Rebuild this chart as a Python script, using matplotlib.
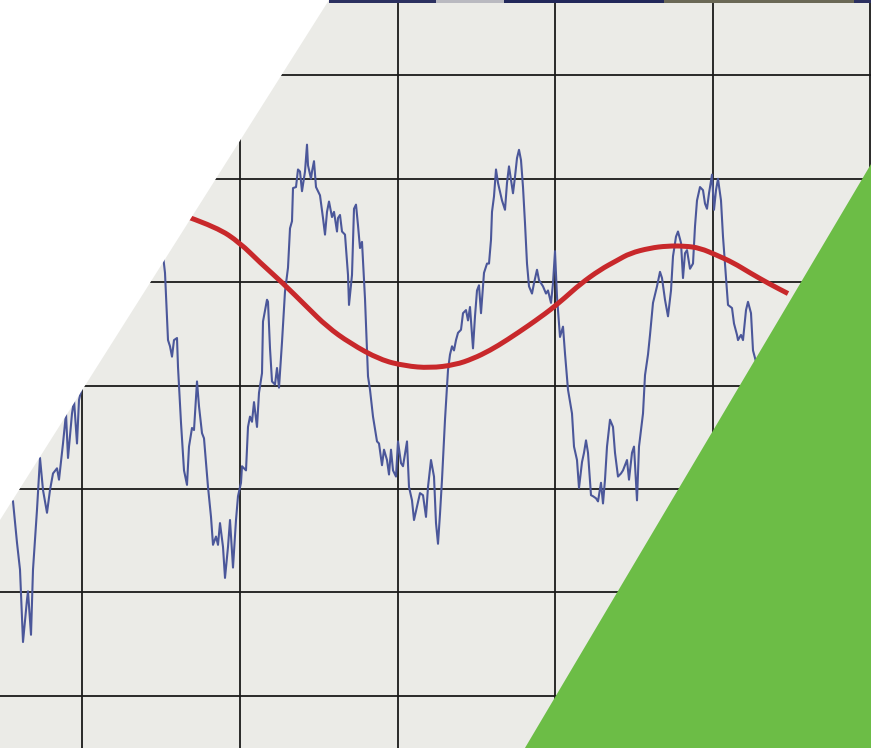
import numpy as np
import matplotlib
matplotlib.use("Agg")
import matplotlib.pyplot as plt
from matplotlib.patches import Polygon, Rectangle, PathPatch
from matplotlib.path import Path

# ---------------- data ----------------
# noisy signal (sample index, level); NaN marks the part hidden by the white corner
blue_t = [13, 17, 20, 23, 27, 28, 31, 33, 37, 40, 43, 47, 50, 53, 57, 59, 63, 66, 68, 72,
          74, 77, 79, 82,
          120,
          163, 165, 168, 170, 172, 174, 177, 178, 181, 184,
          187, 189, 192, 194, 197, 199, 202, 204, 208, 211,
          213, 216, 218, 220, 223, 225, 228, 230, 233, 236,
          238, 241, 242, 246, 248, 250, 252, 254, 257, 259,
          262, 263, 267, 268, 270, 272, 275, 277, 279, 282,
          285, 288, 290, 292, 293, 296, 298, 300, 302, 305,
          307, 308, 311, 312, 314, 316, 320, 323, 325, 327,
          329, 332, 334, 337, 338, 340, 342, 345, 348, 349,
          352, 354, 356, 358, 360, 362, 365, 368, 370, 373,
          377, 379, 382, 384, 387, 389, 391, 393, 396, 398,
          401, 403, 407, 409, 412, 414, 417, 420, 423, 426,
          428, 431, 434, 436, 438, 440, 442, 445, 448, 450,
          452, 454, 456, 458, 461, 463, 466, 468, 470, 473,
          475, 477, 479, 481, 483, 484, 487, 489, 491, 492,
          494, 496, 498, 502, 505, 507, 509, 511, 513, 515,
          517, 519, 521, 523, 525, 527, 529, 532, 534, 537,
          539, 541, 543, 546, 548, 551, 553, 555, 557, 560,
          563, 565, 568, 572, 574, 577, 579, 582, 584, 586,
          588, 591, 593, 596, 598, 601, 603, 605, 607, 610,
          613, 615, 618, 621, 623, 627, 629, 632, 634, 637,
          639, 643, 645, 648, 650, 653, 657, 660, 662, 665,
          668, 671, 673, 676, 678, 681, 683, 685, 687, 690,
          693, 695, 697, 700, 703, 705, 707, 709, 712, 714,
          716, 718, 721, 723, 726, 728, 732, 734, 737, 738,
          741, 743, 746, 748, 751, 753, 756]
blue_v = [1.88, 1.48, 1.22, 0.52, 0.93, 1.01, 0.59, 1.22, 1.80, 2.30, 1.99, 1.77, 1.99, 2.15, 2.20, 2.09, 2.44, 2.73, 2.30, 2.73,
          2.86, 2.44, 2.86, 2.99,
          np.nan,
          4.26, 4.09, 3.44, 3.38, 3.28, 3.44, 3.46, 3.18, 2.64, 2.18,
          2.04, 2.41, 2.59, 2.57, 3.04, 2.80, 2.54, 2.49, 2.02, 1.73,
          1.46, 1.54, 1.46, 1.67, 1.44, 1.14, 1.44, 1.70, 1.24, 1.70,
          1.93, 2.06, 2.22, 2.18, 2.60, 2.70, 2.65, 2.84, 2.60, 2.93,
          3.12, 3.62, 3.83, 3.81, 3.36, 3.04, 3.01, 3.17, 2.98, 3.42,
          3.91, 4.14, 4.52, 4.59, 4.91, 4.92, 5.09, 5.07, 4.88, 5.07,
          5.33, 5.13, 5.00, 5.07, 5.17, 4.92, 4.84, 4.62, 4.46, 4.68,
          4.78, 4.63, 4.68, 4.49, 4.62, 4.65, 4.49, 4.46, 4.07, 3.78,
          4.07, 4.71, 4.75, 4.55, 4.33, 4.39, 3.84, 3.09, 2.96, 2.70,
          2.46, 2.44, 2.23, 2.38, 2.28, 2.14, 2.38, 2.18, 2.12, 2.46,
          2.25, 2.22, 2.46, 2.02, 1.89, 1.70, 1.83, 1.96, 1.94, 1.73,
          2.02, 2.28, 2.12, 1.67, 1.47, 1.76, 2.09, 2.67, 3.15, 3.30,
          3.38, 3.34, 3.44, 3.51, 3.54, 3.70, 3.73, 3.63, 3.76, 3.36,
          3.67, 3.92, 3.97, 3.70, 3.96, 4.09, 4.18, 4.18, 4.41, 4.68,
          4.83, 5.09, 4.96, 4.79, 4.70, 4.96, 5.12, 4.99, 4.86, 5.02,
          5.20, 5.28, 5.18, 4.92, 4.57, 4.18, 3.96, 3.89, 3.99, 4.12,
          4.02, 3.99, 3.96, 3.89, 3.92, 3.80, 3.99, 4.30, 3.86, 3.47,
          3.57, 3.31, 2.96, 2.73, 2.41, 2.28, 2.01, 2.26, 2.35, 2.47,
          2.35, 1.94, 1.93, 1.91, 1.88, 2.06, 1.86, 2.09, 2.41, 2.67,
          2.60, 2.35, 2.12, 2.15, 2.18, 2.28, 2.09, 2.35, 2.41, 1.89,
          2.41, 2.73, 3.10, 3.30, 3.49, 3.80, 3.96, 4.10, 4.04, 3.83,
          3.67, 3.92, 4.25, 4.44, 4.49, 4.38, 4.04, 4.28, 4.31, 4.13,
          4.18, 4.54, 4.79, 4.92, 4.89, 4.76, 4.71, 4.86, 5.04, 4.70,
          4.89, 5.00, 4.79, 4.44, 4.05, 3.78, 3.75, 3.60, 3.49, 3.44,
          3.49, 3.44, 3.73, 3.81, 3.70, 3.34, 3.23]

# smooth trend curve (control points of a smooth path)
red_t = [188, 217, 240, 260, 283, 307, 327, 350, 380, 405, 430, 455, 473, 490, 507,
         530, 540, 550, 565, 580, 600, 617, 630, 650, 667, 685, 700, 717, 733, 750, 770, 788]
red_v = [4.63, 4.53, 4.38, 4.19, 3.99, 3.76, 3.57, 3.41, 3.25, 3.19, 3.17, 3.20, 3.26, 3.34, 3.44,
         3.59, 3.66, 3.73, 3.85, 3.98, 4.12, 4.21, 4.28, 4.33, 4.35, 4.35, 4.33, 4.26, 4.19, 4.09, 3.98, 3.89]

# grid positions
grid_t = [82.3, 239.9, 397.5, 555.1, 712.7, 870.3]
grid_v = [0, 1, 2, 3, 4, 5, 6]

# ---------------- styles ----------------
BG = "#EBEBE7"
GRID = "#1a1a1a"
BLUE = "#4B579A"
RED = "#C8282B"
GREEN = "#6CBD46"

fig = plt.figure(figsize=(8.71, 7.48), dpi=100)
fig.patch.set_facecolor("white")
ax = fig.add_axes([0, 0, 1, 1])
ax.set_facecolor(BG)
ax.set_xlim(0, 871)
ax.set_ylim(-0.505, 6.729)
for s in ax.spines.values():
    s.set_visible(False)
ax.set_xticks(grid_t)
ax.set_yticks(grid_v)
ax.tick_params(length=0, labelbottom=False, labelleft=False)
ax.grid(True, color=GRID, linewidth=1.3, zorder=1)
ax.set_axisbelow(True)

ax.plot(blue_t, blue_v, color=BLUE, linewidth=1.5, solid_joinstyle="round", zorder=3)

# red trend drawn as a smooth quadratic-Bezier path through the control points
pts = list(zip(red_t, red_v))
verts = [pts[0]]
codes = [Path.MOVETO]
for i in range(1, len(pts) - 1):
    mid = ((pts[i][0] + pts[i + 1][0]) / 2, (pts[i][1] + pts[i + 1][1]) / 2)
    verts += [pts[i], mid]
    codes += [Path.CURVE3, Path.CURVE3]
verts.append(pts[-1])
codes.append(Path.LINETO)
ax.add_patch(PathPatch(Path(verts, codes), facecolor="none", edgecolor=RED,
                       linewidth=3.6, capstyle="butt", joinstyle="round", zorder=4))

# decorative shapes (axes fractions)
white_corner = [(0, 1), (0.3777, 1), (0, 0.3048)]
green_corner = [(1, 0.7807), (0.6027, 0), (1, 0)]
ax.add_patch(Polygon(white_corner, closed=True, transform=ax.transAxes,
                     facecolor="white", edgecolor="none", zorder=6, clip_on=False))
ax.add_patch(Polygon(green_corner, closed=True, transform=ax.transAxes,
                     facecolor=GREEN, edgecolor="none", zorder=7, clip_on=False))

# thin dark strip at the very top
strip = [(0.3777, 0.500, "#2b3060"), (0.500, 0.579, "#b9b9c0"),
         (0.579, 0.762, "#22285a"), (0.762, 0.980, "#6a6856"), (0.980, 1.0, "#2b3060")]
for x0, x1, c in strip:
    ax.add_patch(Rectangle((x0, 0.996), x1 - x0, 0.004, transform=ax.transAxes,
                           facecolor=c, edgecolor="none", zorder=8, clip_on=False))

fig.savefig("out.png", dpi=100, facecolor=fig.get_facecolor())
